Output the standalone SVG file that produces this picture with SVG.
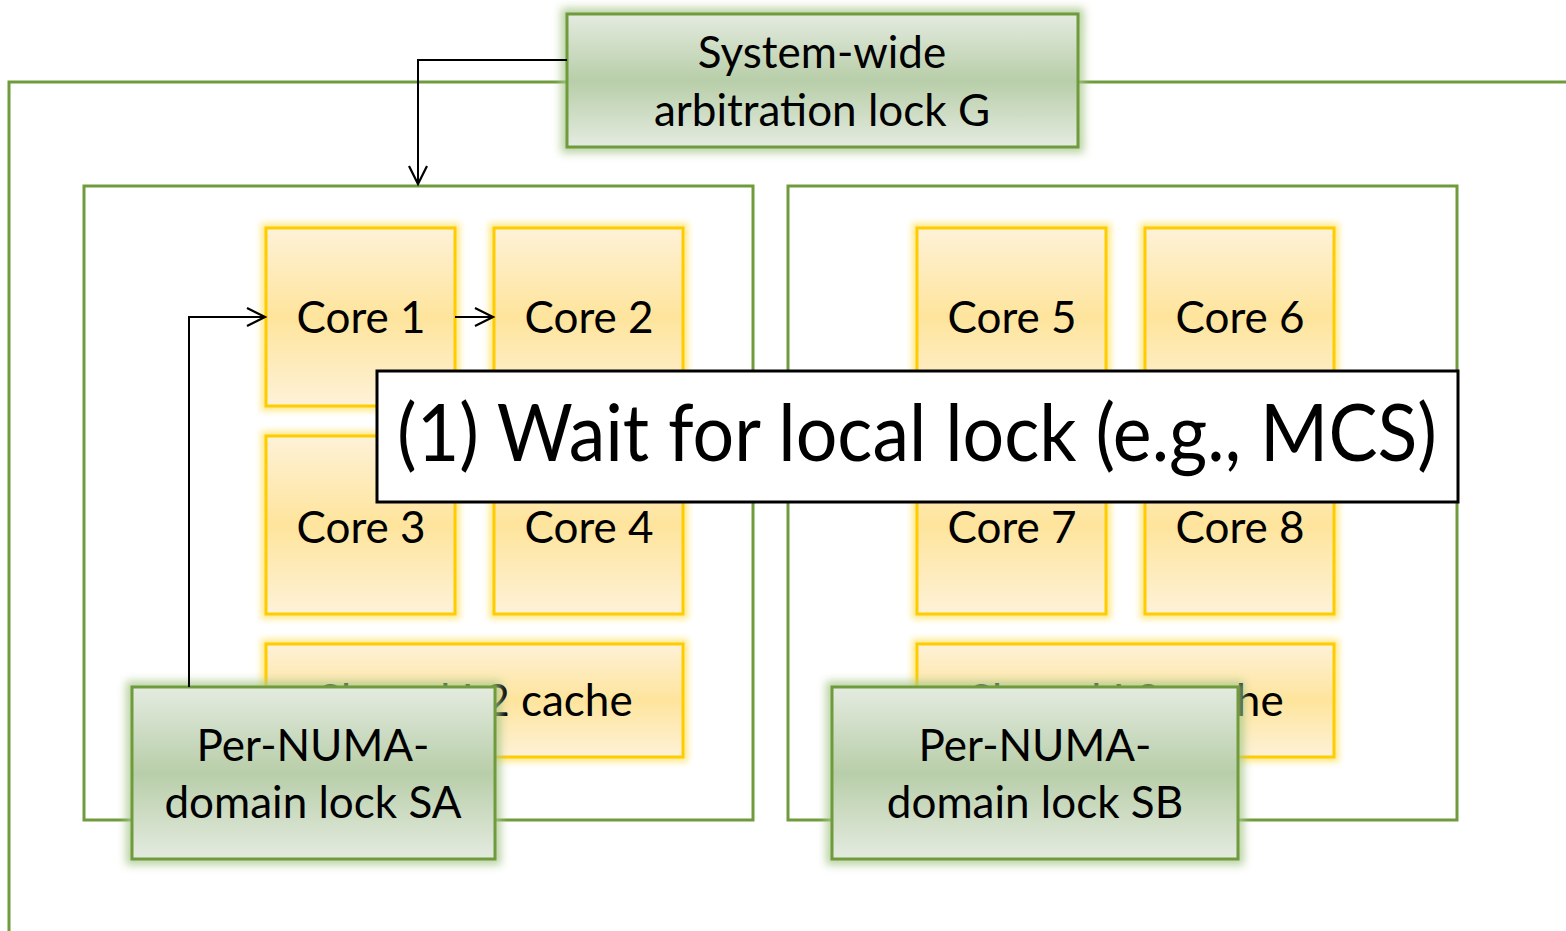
<svg xmlns="http://www.w3.org/2000/svg" width="1566" height="931" viewBox="0 0 1566 931">
<defs>
<linearGradient id="gy" x1="0" y1="0" x2="0" y2="1">
<stop offset="0" stop-color="#fef2d8"/><stop offset="0.5" stop-color="#fee49c"/><stop offset="1" stop-color="#fef2d8"/>
</linearGradient>
<linearGradient id="gg" x1="0" y1="0" x2="0" y2="1">
<stop offset="0" stop-color="#e4ebe0"/><stop offset="0.5" stop-color="#b8cea9"/><stop offset="1" stop-color="#e4ebe0"/>
</linearGradient>
<filter id="glowY" x="-20%" y="-20%" width="140%" height="140%"><feGaussianBlur stdDeviation="3"/></filter>
<filter id="glowG" x="-20%" y="-20%" width="140%" height="140%"><feGaussianBlur stdDeviation="4"/></filter>
<marker id="arr" markerWidth="22" markerHeight="22" refX="19" refY="11" orient="auto" markerUnits="userSpaceOnUse">
<path d="M1,2 L19,11 L1,20" fill="none" stroke="#000" stroke-width="2.2"/>
</marker>
<style>
.t{font-family:"Lato","Liberation Sans",sans-serif;fill:#000;text-anchor:middle}
.core{fill:url(#gy);stroke:#ffcc00;stroke-width:3}
.cglow{fill:none;stroke:#ffe36a;stroke-width:10;opacity:0.8}
.lock{fill:url(#gg);stroke:#6f9b3c;stroke-width:3}
.lglow{fill:none;stroke:#a9c88c;stroke-width:12;opacity:0.8}
.numa{fill:#fff;stroke:#6f9b3c;stroke-width:3}
.wire{fill:none;stroke:#6f9b3c;stroke-width:3}
.conn{fill:none;stroke:#000;stroke-width:2}
</style>
</defs>
<rect width="1566" height="931" fill="#fff"/>
<g id="outer">
<path class="wire" d="M9,931 V82 H1566"/>
</g>
<g id="numaA"><rect class="numa" x="84" y="186" width="669" height="634"/></g>
<g id="numaB"><rect class="numa" x="788" y="186" width="669" height="634"/></g>
<g id="core1"><rect class="cglow" x="266" y="228" width="189" height="178" filter="url(#glowY)"/><rect class="core" x="266" y="228" width="189" height="178"/><text class="t" x="361" y="333" font-size="44">Core 1</text></g>
<g id="core2"><rect class="cglow" x="494" y="228" width="189" height="178" filter="url(#glowY)"/><rect class="core" x="494" y="228" width="189" height="178"/><text class="t" x="589" y="333" font-size="44">Core 2</text></g>
<g id="core3"><rect class="cglow" x="266" y="436" width="189" height="178" filter="url(#glowY)"/><rect class="core" x="266" y="436" width="189" height="178"/><text class="t" x="361" y="543" font-size="44">Core 3</text></g>
<g id="core4"><rect class="cglow" x="494" y="436" width="189" height="178" filter="url(#glowY)"/><rect class="core" x="494" y="436" width="189" height="178"/><text class="t" x="589" y="543" font-size="44">Core 4</text></g>
<g id="cacheA"><rect class="cglow" x="266" y="644" width="417" height="113" filter="url(#glowY)"/><rect class="core" x="266" y="644" width="417" height="113"/><text class="t" x="475" y="716" font-size="44">Shared L2 cache</text></g>
<g id="core5"><rect class="cglow" x="917" y="228" width="189" height="178" filter="url(#glowY)"/><rect class="core" x="917" y="228" width="189" height="178"/><text class="t" x="1012" y="333" font-size="44">Core 5</text></g>
<g id="core6"><rect class="cglow" x="1145" y="228" width="189" height="178" filter="url(#glowY)"/><rect class="core" x="1145" y="228" width="189" height="178"/><text class="t" x="1240" y="333" font-size="44">Core 6</text></g>
<g id="core7"><rect class="cglow" x="917" y="436" width="189" height="178" filter="url(#glowY)"/><rect class="core" x="917" y="436" width="189" height="178"/><text class="t" x="1012" y="543" font-size="44">Core 7</text></g>
<g id="core8"><rect class="cglow" x="1145" y="436" width="189" height="178" filter="url(#glowY)"/><rect class="core" x="1145" y="436" width="189" height="178"/><text class="t" x="1240" y="543" font-size="44">Core 8</text></g>
<g id="cacheB"><rect class="cglow" x="917" y="644" width="417" height="113" filter="url(#glowY)"/><rect class="core" x="917" y="644" width="417" height="113"/><text class="t" x="1126" y="716" font-size="44">Shared L2 cache</text></g>
<g id="lockG"><rect class="lglow" x="567" y="14" width="511" height="133" filter="url(#glowG)"/><rect class="lock" x="567" y="14" width="511" height="133"/><text class="t" x="822" y="68" font-size="44">System-wide</text><text class="t" x="822" y="126" font-size="44">arbitration lock G</text></g>
<g id="lockSA"><rect class="lglow" x="132" y="687" width="363" height="172" filter="url(#glowG)"/><rect class="lock" x="132" y="687" width="363" height="172"/><text class="t" x="313" y="761" font-size="44">Per-NUMA-</text><text class="t" x="313" y="818" font-size="44">domain lock SA</text></g>
<g id="lockSB"><rect class="lglow" x="832" y="687" width="406" height="172" filter="url(#glowG)"/><rect class="lock" x="832" y="687" width="406" height="172"/><text class="t" x="1035" y="761" font-size="44">Per-NUMA-</text><text class="t" x="1035" y="818" font-size="44">domain lock SB</text></g>
<g id="connectors">
<path class="conn" d="M567,60 H418 V184" marker-end="url(#arr)"/>
<path class="conn" d="M189,687 V317 H265" marker-end="url(#arr)"/>
<path class="conn" d="M455,317 H493" marker-end="url(#arr)"/>
</g>
<g id="callout"><rect x="377" y="371" width="1081" height="131" fill="#fff" stroke="#000" stroke-width="3"/><text class="t" x="917" y="461" font-size="80" textLength="1040" lengthAdjust="spacingAndGlyphs">(1) Wait for local lock (e.g., MCS)</text></g>
</svg>
